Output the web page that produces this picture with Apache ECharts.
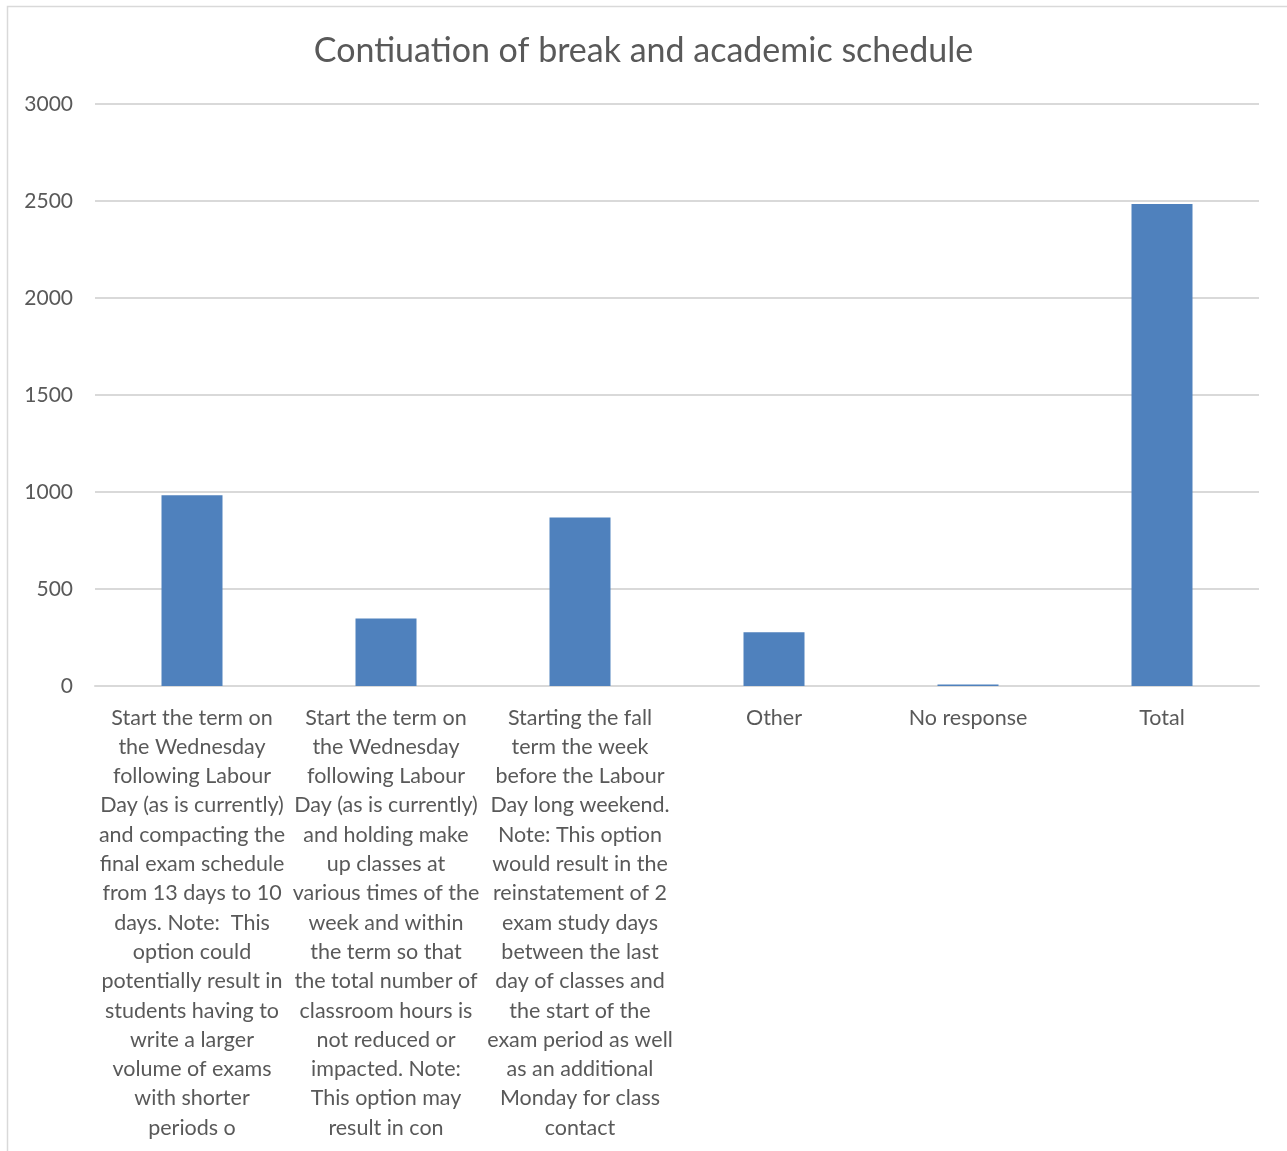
<!DOCTYPE html>
<html>
<head>
<meta charset="utf-8">
<script src="https://cdn.jsdelivr.net/npm/echarts@6/dist/echarts.min.js"></script>
<style>
html,body{margin:0;padding:0;background:#fff;}
#c{width:1287px;height:1151px;}
</style>
</head>
<body>
<div id="c"></div>
<script>
var title = 'Contiuation of break and academic schedule';
var categories = [
  'Start the term on\nthe Wednesday\nfollowing Labour\nDay (as is currently)\nand compacting the\nfinal exam schedule\nfrom 13 days to 10\ndays. Note:  This\noption could\npotentially result in\nstudents having to\nwrite a larger\nvolume of exams\nwith shorter\nperiods o',
  'Start the term on\nthe Wednesday\nfollowing Labour\nDay (as is currently)\nand holding make\nup classes at\nvarious times of the\nweek and within\nthe term so that\nthe total number of\nclassroom hours is\nnot reduced or\nimpacted. Note:\nThis option may\nresult in con',
  'Starting the fall\nterm the week\nbefore the Labour\nDay long weekend.\nNote: This option\nwould result in the\nreinstatement of 2\nexam study days\nbetween the last\nday of classes and\nthe start of the\nexam period as well\nas an additional\nMonday for class\ncontact',
  'Other',
  'No response',
  'Total'
];
var values = [983, 348, 868, 277, 8, 2484];
var yTicks = [0, 500, 1000, 1500, 2000, 2500, 3000];

var FONT = 'Lato, "Liberation Sans", sans-serif';
var chart = echarts.init(document.getElementById('c'));
chart.setOption({
  animation: false,
  title: {
    text: title, left: 'center', top: 29,
    textStyle: {fontFamily: FONT, fontSize: 34, fontWeight: 'normal', color: '#595959'}
  },
  graphic: [{
    type: 'rect', shape: {x: 7.5, y: 6.5, width: 1290, height: 1160},
    style: {fill: 'none', stroke: '#d9d9d9', lineWidth: 1.5}, silent: true
  }],
  grid: {left: 95, right: 28, top: 104, bottom: 465},
  xAxis: {
    type: 'category', data: categories,
    axisLine: {lineStyle: {color: '#d9d9d9', width: 2}},
    axisTick: {show: false},
    axisLabel: {
      interval: 0, margin: 17, color: '#595959', fontFamily: FONT, fontSize: 21.5,
      lineHeight: 29.3, align: 'center', verticalAlign: 'top'
    }
  },
  yAxis: {
    type: 'value', min: yTicks[0], max: yTicks[yTicks.length - 1], interval: 500,
    axisLine: {show: false}, axisTick: {show: false},
    splitLine: {lineStyle: {color: '#d9d9d9', width: 2}},
    axisLabel: {margin: 22, color: '#595959', fontFamily: FONT, fontSize: 21,
      formatter: function (v) { return String(v); }}
  },
  series: [{
    type: 'bar', data: values, barWidth: 61,
    itemStyle: {color: '#4f81bd'}
  }]
});
</script>
</body>
</html>
